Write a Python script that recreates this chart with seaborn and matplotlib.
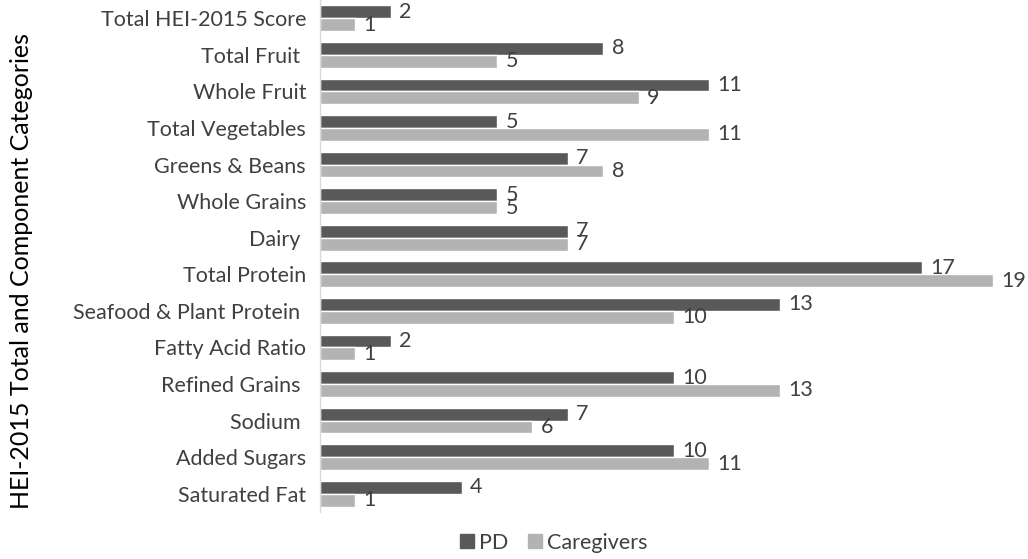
import matplotlib
matplotlib.use("Agg")
import matplotlib.pyplot as plt
import seaborn as sns
import pandas as pd

categories = [
    "Total HEI-2015 Score", "Total Fruit ", "Whole Fruit", "Total Vegetables",
    "Greens & Beans", "Whole Grains", "Dairy ", "Total Protein",
    "Seafood & Plant Protein ", "Fatty Acid Ratio", "Refined Grains ",
    "Sodium ", "Added Sugars", "Saturated Fat",
]
pd_values = [2, 8, 11, 5, 7, 5, 7, 17, 13, 2, 10, 7, 10, 4]
caregiver_values = [1, 5, 9, 11, 8, 5, 7, 19, 10, 1, 13, 6, 11, 1]
series_names = ["PD", "Caregivers"]

df = pd.DataFrame({
    "Category": categories * 2,
    "Value": pd_values + caregiver_values,
    "Group": [series_names[0]] * len(categories) + [series_names[1]] * len(categories),
})

sns.set_style("white")
plt.rcParams["font.family"] = ["Lato", "DejaVu Sans"]

dark = "#595959"
light = "#b3b3b3"
text_color = "#404040"

fig = plt.figure(figsize=(10.28, 5.59), dpi=100)
ax = fig.add_axes([320 / 1028, 47 / 559, 708 / 1028, 512 / 559])

sns.barplot(data=df, x="Value", y="Category", hue="Group", orient="h",
            palette=[dark, light], width=0.7, ax=ax, legend=False,
            saturation=1, order=categories, hue_order=series_names)

for container in ax.containers:
    ax.bar_label(container, padding=6, fontsize=15.5, color=text_color)

ax.set_xlim(0, 20)
ax.set_xticks([])
ax.set_xlabel("")
ax.set_ylabel("HEI-2015 Total and Component Categories", fontsize=18,
              color="#000000")
ax.yaxis.set_label_coords((33 - 320) / 708, 0.47)
ax.tick_params(axis="y", length=0, labelsize=15.5, labelcolor=text_color, pad=10)

for side in ["top", "right", "bottom"]:
    ax.spines[side].set_visible(False)
ax.spines["left"].set_color("#d9d9d9")
ax.spines["left"].set_linewidth(1)

handles = [plt.Line2D([], [], marker="s", linestyle="", markersize=10,
                      color=c) for c in (dark, light)]
fig.legend(handles, series_names, loc="center", bbox_to_anchor=(551 / 1028, 1 - 543 / 559),
           ncol=2, frameon=False, fontsize=15.5, handletextpad=0.0,
           handlelength=1.1, columnspacing=0.7, labelcolor=text_color)

fig.savefig("out.png", dpi=100)
